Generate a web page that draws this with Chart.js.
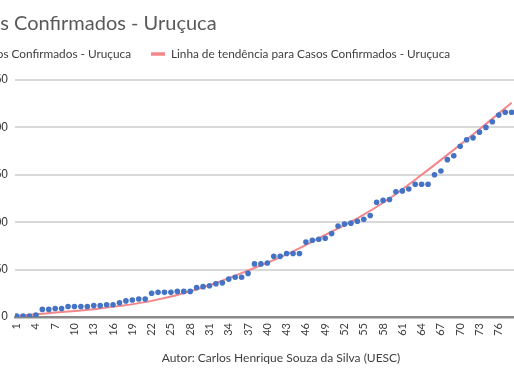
<!DOCTYPE html>
<html>
<head>
<meta charset="utf-8">
<script src="https://cdn.jsdelivr.net/npm/chart.js@4"></script>
<style>
	html, body { margin: 0; padding: 0; background: #fff; overflow: hidden; }
	body { width: 514px; height: 386px; position: relative; }
	#title { position: absolute; left: -43px; top: 10px; font: 20px Lato, sans-serif; line-height: 24px; color: #595959; white-space: nowrap; z-index: 1; }
	#wrap { position: absolute; left: -62px; top: 0; width: 613px; height: 386px; }
</style>
</head>
<body>
<div id="title">Casos Confirmados - Uruçuca</div>
<div id="wrap"><canvas id="chart"></canvas></div>
<script>
const days = [
	1, 2, 3, 4, 5, 6, 7, 8, 9, 10,
	11, 12, 13, 14, 15, 16, 17, 18, 19, 20,
	21, 22, 23, 24, 25, 26, 27, 28, 29, 30,
	31, 32, 33, 34, 35, 36, 37, 38, 39, 40,
	41, 42, 43, 44, 45, 46, 47, 48, 49, 50,
	51, 52, 53, 54, 55, 56, 57, 58, 59, 60,
	61, 62, 63, 64, 65, 66, 67, 68, 69, 70,
	71, 72, 73, 74, 75, 76, 77, 78
];
const cases = [
	1, 1, 1, 2, 8, 8, 9, 9, 11, 11,
	11, 11, 12, 12, 13, 13, 15, 17, 18, 19,
	19, 25, 26, 26, 26, 27, 27, 27, 31, 32,
	33, 35, 36, 40, 42, 42, 46, 56, 56, 57,
	64, 64, 67, 67, 67, 79, 81, 82, 83, 88,
	96, 98, 99, 101, 103, 107, 121, 123, 124, 132,
	133, 135, 140, 140, 140, 150, 154, 166, 170, 180,
	187, 189, 195, 200, 206, 213, 216, 216
];
// trend line at a few days
const trendDays = [1, 6, 14, 22, 29, 37, 43, 50, 54, 59, 64, 68, 73, 78];
const trendCases = [1, 4, 9, 17, 29, 49, 66, 90, 104, 125, 150, 171, 198, 226];
const xTicks = [1, 4, 7, 10, 13, 16, 19, 22, 25, 28, 31, 34, 37, 40, 43, 46, 49, 52, 55, 58, 61, 64, 67, 70, 73, 76];

const config = {
	type: "line",
	data: {
		datasets: [
			{
				label: "Casos Confirmados - Uruçuca",
				data: days.map((d, i) => ({ x: d, y: cases[i] })),
				showLine: false,
				pointStyle: "circle",
				pointRadius: 2.8,
				pointBorderWidth: 0,
				pointBackgroundColor: "#4472c4",
				backgroundColor: "#4472c4",
				borderColor: "#4472c4"
			},
			{
				label: "Linha de tendência para Casos Confirmados - Uruçuca",
				data: trendDays.map((d, i) => ({ x: d, y: trendCases[i] })),
				borderColor: "#f4868a",
				borderWidth: 2,
				cubicInterpolationMode: "monotone",
				pointRadius: 0,
				pointStyle: "line",
				pointBorderWidth: 3.5,
				pointBorderColor: "#f4868a"
			}
		]
	},
	options: {
		animation: false,
		responsive: true,
		maintainAspectRatio: false,
		layout: { padding: { top: 28, left: 0, right: 0, bottom: 0 } },
		scales: {
			x: {
				type: "linear",
				min: 0.75,
				max: 83.5,
				afterBuildTicks: axis => (axis.ticks = xTicks.map(value => ({ value }))),
				afterFit: axis => {
					axis.height = 69;
				},
				grid: { display: false, drawTicks: false },
				border: { color: "#898989", width: 2.5 },
				ticks: {
					color: "#404040",
					font: { family: "Lato", size: 11 },
					minRotation: 90,
					maxRotation: 90,
					padding: 6,
					autoSkip: false
				},
				title: {
					display: true,
					text: "Autor: Carlos Henrique Souza da Silva (UESC)",
					color: "#404040",
					font: { family: "Lato", size: 12 },
					padding: { top: 0, bottom: 21 }
				}
			},
			x2: {
				type: "linear",
				axis: "x",
				position: "top",
				afterFit: axis => {
					axis.height = 10.2;
				},
				ticks: { display: false },
				grid: { display: false, drawTicks: false },
				border: { display: false }
			},
			y: {
				min: 0,
				max: 250,
				afterFit: axis => {
					axis.width = 77;
				},
				ticks: {
					stepSize: 50,
					padding: 7,
					color: "#333",
					font: { family: "Liberation Sans", size: 12 }
				},
				grid: { color: "#d9d9d9", lineWidth: 2, drawTicks: false },
				border: { display: false }
			}
		},
		plugins: {
			legend: {
				align: "start",
				labels: {
					usePointStyle: true,
					pointStyleWidth: 14,
					padding: 20,
					color: "#404040",
					font: { family: "Lato", size: 11.8 }
				}
			},
			tooltip: { enabled: false }
		}
	}
};

new Chart(document.getElementById("chart"), config);
</script>
</body>
</html>
